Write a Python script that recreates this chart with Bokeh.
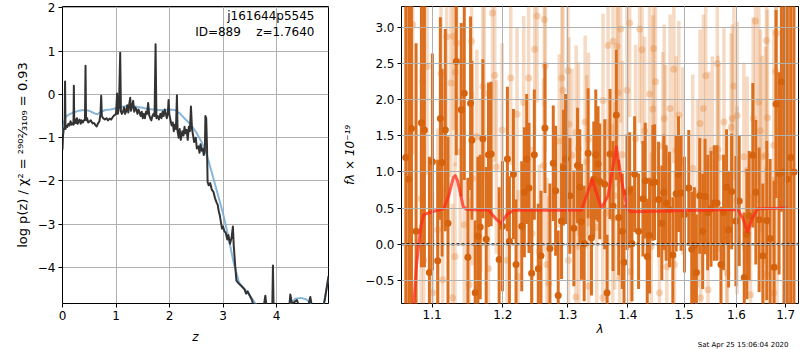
import numpy as np
from bokeh.plotting import figure
from bokeh.layouts import row
from bokeh.models import Range1d, FixedTicker, CustomJSTickFormatter, Label, Span, Title
from bokeh.embed import file_html
from bokeh.resources import INLINE

# ---------------- left panel: log p(z) ----------------
z_grid = [0.000, 0.010, 0.025, 0.040, 0.048, 0.056, 0.070, 0.090, 0.110, 0.130, 0.150, 0.170, 0.195, 0.205,
          0.212, 0.220, 0.240, 0.255, 0.270, 0.285, 0.300, 0.320, 0.340, 0.360, 0.380, 0.400, 0.420, 0.430,
          0.440, 0.460, 0.480, 0.500, 0.530, 0.560, 0.590, 0.620, 0.640, 0.660, 0.690, 0.710, 0.723, 0.735,
          0.760, 0.790, 0.820, 0.850, 0.880, 0.910, 0.940, 0.970, 1.000, 1.020, 1.035, 1.055, 1.078, 1.092,
          1.110, 1.130, 1.150, 1.170, 1.190, 1.210, 1.230, 1.250, 1.265, 1.280, 1.300, 1.320, 1.340, 1.360,
          1.380, 1.400, 1.420, 1.440, 1.460, 1.480, 1.500, 1.520, 1.540, 1.560, 1.580, 1.600, 1.620, 1.640,
          1.660, 1.680, 1.700, 1.720, 1.739, 1.755, 1.780, 1.800, 1.830, 1.850, 1.870, 1.890, 1.910, 1.930,
          1.950, 1.970, 1.982, 1.995, 2.010, 2.040, 2.060, 2.080, 2.100, 2.120, 2.138, 2.150, 2.170, 2.190,
          2.210, 2.240, 2.260, 2.280, 2.300, 2.320, 2.340, 2.360, 2.380, 2.400, 2.420, 2.440, 2.460, 2.490,
          2.510, 2.540, 2.560, 2.580, 2.600, 2.620, 2.640, 2.660, 2.670, 2.685, 2.700, 2.711, 2.730, 2.760,
          2.790, 2.820, 2.850, 2.880, 2.900, 2.920, 2.940, 2.960, 2.980, 3.000, 3.020, 3.050, 3.080, 3.100,
          3.130, 3.160, 3.184, 3.200, 3.228, 3.250, 3.280, 3.320, 3.360, 3.400, 3.430, 3.460, 3.500, 3.540,
          3.571, 3.620, 3.700, 3.760, 3.790, 3.820, 3.880, 3.920, 3.932, 3.945, 4.100, 4.230, 4.257, 4.290,
          4.330, 4.380, 4.420, 4.500, 4.580, 4.630, 4.660, 4.750, 4.850, 4.900, 4.970]
log_pz = [-1.28, -0.95, -0.78, -0.80, 0.30, -0.80, -0.72, -0.75, -0.68, -0.72, -0.62, -0.70, -0.66, -0.70,
          0.20, -0.68, -0.58, -0.66, -0.55, -0.68, -0.62, -0.58, -0.68, -0.60, -0.65, -0.60, -0.58, 0.66,
          -0.60, -0.55, -0.65, -0.63, -0.60, -0.67, -0.66, -0.72, -0.74, -0.68, -0.62, -0.45, -0.03, -0.50,
          -0.55, -0.58, -0.55, -0.60, -0.56, -0.58, -0.52, -0.48, -0.45, 0.02, -0.45, -0.30, 0.96, -0.40,
          -0.45, -0.40, -0.30, -0.45, -0.38, -0.25, -0.42, -0.20, -0.08, -0.38, -0.28, -0.15, -0.40, -0.30,
          -0.35, -0.45, -0.35, -0.42, -0.50, -0.40, -0.55, -0.45, -0.55, -0.40, -0.45, -0.20, -0.48, -0.55,
          -0.60, -0.50, -0.45, -0.50, 1.16, -0.55, -0.50, -0.58, -0.45, -0.55, -0.40, -0.50, -0.35, -0.45,
          -0.55, -0.40, -0.13, -0.45, -0.55, -0.72, -0.65, -0.85, -0.70, -0.80, -0.02, -0.85, -1.00, -0.80,
          -1.05, -0.85, -0.95, -0.75, -0.90, -0.82, -1.05, -0.75, -0.85, -0.28, -0.80, -0.95, -1.10, -1.00,
          -1.25, -1.20, -1.35, -1.15, -1.30, -1.25, -1.40, -1.30, -0.50, -0.55, -1.20, -2.02, -2.10, -2.05,
          -2.20, -2.25, -2.40, -2.50, -2.55, -2.70, -2.80, -2.95, -3.10, -3.05, -3.15, -3.20, -3.35, -3.25,
          -3.45, -3.30, -3.05, -3.50, -3.98, -4.30, -4.35, -4.40, -4.45, -4.50, -4.60, -4.55, -4.65, -4.75,
          -4.90, -5.00, -5.00, -4.90, -4.65, -5.00, -5.00, -4.90, -3.95, -5.00, -5.00, -5.00, -4.62, -4.85,
          -4.80, -4.75, -4.90, -5.00, -4.95, -4.68, -4.90, -5.00, -5.00, -4.75, -4.20]

z_smooth = [0.00, 0.03, 0.06, 0.10, 0.20, 0.30, 0.40, 0.50, 0.60, 0.65, 0.72, 0.80, 0.90, 1.00, 1.10, 1.20,
            1.30, 1.40, 1.50, 1.60, 1.70, 1.80, 1.90, 2.00, 2.10, 2.20, 2.30, 2.40, 2.50, 2.60, 2.70, 2.80,
            2.90, 3.00, 3.10, 3.20, 3.30, 3.40, 3.50, 3.60, 3.70, 3.80, 4.00, 4.15, 4.25, 4.35, 4.45, 4.55,
            4.62, 4.70, 4.80, 4.88, 4.97]
logp_smooth = [-0.92, -0.62, -0.52, -0.48, -0.42, -0.38, -0.36, -0.38, -0.44, -0.46, -0.40, -0.36, -0.35,
               -0.32, -0.29, -0.27, -0.27, -0.29, -0.31, -0.34, -0.35, -0.36, -0.36, -0.35, -0.36, -0.45,
               -0.58, -0.70, -0.88, -1.10, -1.42, -1.85, -2.30, -2.75, -3.30, -3.90, -4.35, -4.50, -4.65,
               -4.82, -4.95, -5.00, -5.00, -5.00, -4.85, -4.72, -4.70, -4.73, -4.80, -4.95, -5.00, -4.85, -4.25]

# ---------------- right panel: spectrum ----------------
lam_a = [1.0650, 1.0690, 1.0725, 1.0786, 1.0857, 1.0897, 1.0964, 1.1005, 1.1077, 1.1113, 1.1136, 1.1181,
         1.1218, 1.1333, 1.1403, 1.1445, 1.1496, 1.1534, 1.1553, 1.1600, 1.1638, 1.1672, 1.1710, 1.1758,
         1.1791, 1.1830, 1.1947, 1.1996, 1.2069, 1.2099, 1.2159, 1.2198, 1.2284, 1.2324, 1.2359, 1.2394,
         1.2435, 1.2476, 1.2537, 1.2578, 1.2640, 1.2718, 1.2770, 1.2807, 1.2848, 1.2901, 1.2933, 1.2965,
         1.3034, 1.3098, 1.3157, 1.3194, 1.3221, 1.3265, 1.3330, 1.3385, 1.3423, 1.3456, 1.3494, 1.3522,
         1.3605, 1.3644, 1.3694, 1.3745, 1.3801, 1.3841, 1.3903, 1.3932, 1.3983, 1.4029, 1.4069, 1.4115,
         1.4184, 1.4260, 1.4301, 1.4336, 1.4377, 1.4436, 1.4466, 1.4537, 1.4596, 1.4632, 1.4674, 1.4734,
         1.4795, 1.4855, 1.4898, 1.4946, 1.5008, 1.5088, 1.5143, 1.5193, 1.5230, 1.5293, 1.5349, 1.5393,
         1.5443, 1.5507, 1.5570, 1.5621, 1.5698, 1.5749, 1.5807, 1.5846, 1.5905, 1.5989, 1.6055, 1.6154,
         1.6207, 1.6253, 1.6326, 1.6386, 1.6453, 1.6528, 1.6609, 1.6677, 1.6759, 1.6800, 1.6862, 1.6910,
         1.6965, 1.7035, 1.7104, 1.7174]
flux_a = [1.20, 0.90, 1.60, 0.18, 1.68, 1.58, -0.39, 1.14, -0.23, 1.74, 1.13, 1.58,
          0.29, 2.53, 1.86, 2.09, -0.18, 1.95, 1.44, -0.67, 0.11, 0.24, 1.46, 0.07,
          1.24, 1.25, -0.21, 0.25, 1.18, 0.04, 0.97, -0.28, 0.25, 0.72, 1.18, 0.78,
          -0.40, 1.24, -0.34, -0.16, 1.61, -0.06, 1.12, 0.74, -0.71, 0.32, 1.06, 1.18,
          0.67, 0.22, 1.09, 0.79, 0.31, 0.01, 1.26, 0.09, 0.90, 1.24, 1.11, 0.87,
          0.83, -0.67, 1.25, 0.53, 1.79, 0.37, 0.18, -0.25, 0.72, 0.75, 0.01, 0.97,
          0.18, 0.63, 0.88, -0.17, 0.12, 0.85, 0.86, 0.62, 0.29, 0.72, 0.57, 0.48,
          -0.15, 0.70, 0.97, 0.71, 0.41, 0.78, -0.07, -0.01, -0.39, 0.67, 0.18, 0.66,
          0.44, 0.49, 0.57, 0.57, -0.28, 0.44, 0.79, 0.20, 0.73, 0.32, 0.60, -0.46,
          0.14, 0.39, 1.23, 0.72, 0.34, -0.16, 0.33, 0.08, -0.32, 1.94, 0.98, 2.25,
          1.00, 0.90, 1.20, 1.00]
err_a = [3.5, 3.5, 3.0, 2.6, 2.0, 1.9, 1.6, 1.5, 1.4, 1.4, 1.3, 1.4,
         1.2, 1.3, 1.2, 1.2, 1.1, 1.2, 1.1, 1.0, 1.1, 1.0, 1.1, 1.0,
         1.0, 1.0, 1.0, 0.9, 1.0, 0.9, 0.9, 0.9, 0.9, 0.9, 0.9, 0.9,
         0.9, 0.9, 0.9, 0.9, 0.9, 0.9, 0.8, 0.9, 0.9, 0.8, 0.8, 0.9,
         0.8, 0.8, 0.8, 0.8, 0.8, 0.8, 0.9, 0.8, 0.8, 0.9, 0.8, 0.8,
         0.9, 0.8, 0.9, 0.9, 0.9, 0.8, 0.8, 0.8, 0.8, 0.8, 0.8, 0.8,
         0.8, 0.8, 0.8, 0.8, 0.8, 0.8, 0.8, 0.8, 0.8, 0.8, 0.8, 0.8,
         0.8, 0.8, 0.8, 0.8, 0.8, 0.8, 0.8, 0.8, 0.8, 0.8, 0.8, 0.8,
         0.8, 0.8, 0.8, 0.8, 0.8, 0.8, 0.8, 0.8, 0.8, 0.9, 0.9, 0.9,
         0.9, 0.9, 1.0, 1.0, 1.0, 1.0, 1.1, 1.1, 1.2, 1.3, 1.4, 1.8,
         3.5, 3.5, 3.5, 3.5]

lam_b = [1.0700, 1.0742, 1.0853, 1.0875, 1.0888, 1.0933, 1.1009, 1.1077, 1.1122, 1.1145, 1.1200, 1.1259,
         1.1282, 1.1292, 1.1315, 1.1319, 1.1338, 1.1389, 1.1445, 1.1514, 1.1548, 1.1562, 1.1624, 1.1681,
         1.1710, 1.1729, 1.1791, 1.1849, 1.1883, 1.1907, 1.1991, 1.2064, 1.2119, 1.2213, 1.2228, 1.2314,
         1.2389, 1.2440, 1.2481, 1.2517, 1.2552, 1.2618, 1.2630, 1.2645, 1.2671, 1.2697, 1.2864, 1.2906,
         1.2922, 1.3002, 1.3012, 1.3018, 1.3066, 1.3130, 1.3135, 1.3173, 1.3178, 1.3281, 1.3308, 1.3335,
         1.3340, 1.3472, 1.3572, 1.3577, 1.3655, 1.3661, 1.3740, 1.3745, 1.3773, 1.3812, 1.3829, 1.3858,
         1.3875, 1.3903, 1.3983, 1.4029, 1.4040, 1.4132, 1.4202, 1.4243, 1.4289, 1.4377, 1.4407, 1.4436,
         1.4448, 1.4483, 1.4554, 1.4614, 1.4638, 1.4662, 1.4686, 1.4746, 1.4813, 1.4825, 1.4855, 1.4904,
         1.4977, 1.5162, 1.5249, 1.5299, 1.5311, 1.5362, 1.5406, 1.5450, 1.5469, 1.5532, 1.5627, 1.5640,
         1.5659, 1.5756, 1.5807, 1.5820, 1.5895, 1.5918, 1.5950, 1.6010, 1.6015, 1.6147, 1.6213, 1.6280,
         1.6333, 1.6380, 1.6447, 1.6480, 1.6514, 1.6582, 1.6587, 1.6602, 1.6623, 1.6747, 1.6752, 1.6793,
         1.6807, 1.6821, 1.7000, 1.7140]
flux_b = [1.50, 3.04, 0.63, 2.26, -0.22, 2.46, -0.67, 0.20, 2.36, -0.49, 2.87, 2.23,
          -0.74, 2.88, -0.17, 2.38, 2.79, 1.28, 0.27, -0.56, 2.81, 0.91, 1.49, 0.82,
          2.18, 2.09, -0.34, 3.20, 2.34, 1.07, 1.58, -0.22, 2.30, 1.80, -0.45, 1.96,
          2.30, 0.15, 2.70, 3.16, -0.10, 1.09, 3.11, 2.47, -0.28, -0.54, 1.43, 2.30,
          2.13, 2.40, -0.22, 1.66, 1.23, -0.73, 1.55, 1.32, -0.03, 1.69, 1.14, 1.45,
          -0.58, 0.23, -0.74, 1.99, 0.43, 2.75, 0.36, 2.81, 0.67, 2.74, 2.10, -0.47,
          2.98, 1.24, 2.13, 3.06, -0.38, 1.46, 2.98, 2.69, 1.57, 2.08, -0.03, 1.87,
          2.71, 2.25, -0.67, 1.36, 1.74, 1.18, -0.31, 1.88, 2.42, -0.28, 1.30, 1.79,
          1.15, 1.05, 0.70, 1.67, -0.74, 1.88, 2.33, -0.63, 1.09, 1.30, 2.50, 1.31,
          1.20, 1.69, 0.15, -0.40, 1.62, 1.74, 2.19, 0.61, 1.78, 1.21, 1.02, -0.70,
          1.74, 3.09, 1.97, 1.57, 1.21, 1.23, -0.42, 2.82, 1.75, -0.67, 1.37, 2.39,
          2.92, -0.31, 1.30, 1.00]
err_b = [3.0, 1.8, 1.8, 1.6, 1.6, 1.5, 1.4, 1.4, 1.4, 1.3, 1.3, 1.3,
         1.3, 1.3, 1.3, 1.3, 1.3, 1.3, 1.2, 1.2, 1.2, 1.2, 1.2, 1.2,
         1.2, 1.2, 1.2, 1.2, 1.2, 1.2, 1.2, 1.2, 1.2, 1.2, 1.2, 1.2,
         1.2, 1.2, 1.2, 1.2, 1.2, 1.2, 1.2, 1.2, 1.2, 1.2, 1.2, 1.2,
         1.2, 1.2, 1.2, 1.2, 1.2, 1.2, 1.2, 1.2, 1.2, 1.2, 1.2, 1.2,
         1.2, 1.2, 1.2, 1.2, 1.3, 1.3, 1.3, 1.3, 1.3, 1.3, 1.3, 1.3,
         1.3, 1.3, 1.3, 1.3, 1.3, 1.3, 1.3, 1.3, 1.3, 1.3, 1.3, 1.3,
         1.3, 1.3, 1.3, 1.3, 1.3, 1.3, 1.3, 1.3, 1.3, 1.3, 1.3, 1.3,
         1.3, 1.3, 1.3, 1.3, 1.3, 1.3, 1.3, 1.3, 1.3, 1.3, 1.3, 1.3,
         1.3, 1.3, 1.3, 1.3, 1.3, 1.3, 1.3, 1.3, 1.3, 1.3, 1.3, 1.4,
         1.4, 1.4, 1.4, 1.4, 1.4, 1.5, 1.5, 1.5, 1.5, 1.6, 1.6, 1.6,
         1.6, 1.6, 3.0, 3.0]

lam_model = [1.0755, 1.0790, 1.0822, 1.0850, 1.0888, 1.1000, 1.1159, 1.1227, 1.1290, 1.1319, 1.1350,
             1.1389, 1.1430, 1.1482, 1.1791, 1.1913, 1.1976, 1.2060, 1.2159, 1.3221, 1.3303, 1.3395,
             1.3483, 1.3550, 1.3661, 1.3728, 1.3801, 1.3886, 1.3988, 1.4057, 1.6022, 1.6121, 1.6220,
             1.6300, 1.6420, 1.7035]
flux_model = [-0.85, -0.30, 0.00, 0.25, 0.41, 0.45, 0.49, 0.67, 0.92, 0.95, 0.88,
              0.71, 0.52, 0.48, 0.47, 0.34, 0.29, 0.41, 0.47, 0.47, 0.67, 0.90,
              0.67, 0.50, 0.67, 0.99, 1.35, 0.90, 0.48, 0.45, 0.48, 0.37, 0.17,
              0.34, 0.49, 0.50]

z_ticks = [0, 1, 2, 3, 4]
logp_ticks = [-4, -3, -2, -1, 0, 1, 2]
lam_ticks = [1.1, 1.2, 1.3, 1.4, 1.5, 1.6, 1.7]
flux_ticks = [-0.5, 0.0, 0.5, 1.0, 1.5, 2.0, 2.5, 3.0]

FONT = "DejaVu Sans"


def style(p):
    p.outline_line_color = "black"
    p.outline_line_width = 1
    p.outline_line_alpha = 1
    p.background_fill_color = "white"
    p.border_fill_color = "white"
    for ax in (p.xaxis[0], p.yaxis[0]):
        ax.major_label_text_font = FONT
        ax.major_label_text_font_size = "12px"
        ax.major_label_text_color = "black"
        ax.axis_label_text_font = FONT
        ax.axis_label_text_font_size = "12px"
        ax.axis_label_text_color = "black"
        ax.axis_line_color = None
        ax.major_tick_line_color = "black"
        ax.major_tick_out = 4
        ax.major_tick_in = 0
        ax.minor_tick_line_color = None
        ax.major_label_standoff = 3
        ax.axis_label_standoff = 5
    p.grid.grid_line_color = "#b0b0b0"
    p.grid.grid_line_width = 1


H = 349
BB = 46
# ---- left figure ----
p1 = figure(width=340, height=H, x_range=Range1d(0, 4.97), y_range=Range1d(-4.83, 2.03),
            output_backend="svg", toolbar_location=None,
            min_border_left=62, min_border_right=12, min_border_top=6, min_border_bottom=BB)
style(p1)
p1.xaxis.ticker = FixedTicker(ticks=z_ticks)
p1.yaxis.ticker = FixedTicker(ticks=logp_ticks)
p1.xaxis.formatter = CustomJSTickFormatter(code="return tick.toFixed(0).replace('-', '\u2212');")
p1.yaxis.formatter = CustomJSTickFormatter(code="return tick.toFixed(0).replace('-', '\u2212');")
p1.xaxis.axis_label = "z"
p1.xaxis.axis_label_text_font_style = "italic"
p1.xaxis.axis_label_standoff = 7
p1.yaxis.axis_label = "log p(z) / \u03c7\u00b2 = \u00b2\u2079\u2070\u00b2\u2044\u2083\u2081\u2080\u2089 = 0.93"
p1.yaxis.axis_label_text_font_style = "normal"
p1.yaxis.axis_label_text_font_size = "13px"

p1.line(z_smooth, logp_smooth, line_color="#7aaed6", line_alpha=0.9, line_width=2)
p1.line(z_grid, log_pz, line_color="#333333", line_width=2, line_join="round")

p1.add_layout(Label(x=4.708, y=1.645, text="j161644p5545", text_align="right",
                    text_font=FONT, text_font_size="12px", text_color="black"))
p1.add_layout(Label(x=4.708, y=1.27, text="ID=889\u00a0\u00a0\u00a0\u00a0z=1.7640", text_align="right",
                    text_font=FONT, text_font_size="12px", text_color="black"))

# ---- right figure ----
p2 = figure(width=459, height=H, x_axis_type="log", x_range=Range1d(1.0594, 1.727),
            y_range=Range1d(-0.82, 3.29), output_backend="svg", toolbar_location=None,
            min_border_left=59, min_border_right=1, min_border_top=6, min_border_bottom=BB)
style(p2)
p2.xaxis.ticker = FixedTicker(ticks=lam_ticks, minor_ticks=[])
p2.yaxis.ticker = FixedTicker(ticks=flux_ticks)
p2.xaxis.formatter = CustomJSTickFormatter(code="return tick.toFixed(1);")
p2.yaxis.formatter = CustomJSTickFormatter(code="return tick.toFixed(1).replace('-', '\u2212');")
p2.xaxis.axis_label = "\u03bb"
p2.xaxis.axis_label_text_font_style = "italic"
p2.xaxis.axis_label_standoff = 0
p2.xaxis.major_label_standoff = 2
p2.yaxis.axis_label = "f\u03bb \u00d7 10\u207b\u00b9\u2079"
p2.yaxis.axis_label_text_font_style = "italic"
p2.grid.level = "overlay"

la = np.array(lam_a); fa = np.array(flux_a); ea = np.array(err_a)
lb = np.array(lam_b); fb = np.array(flux_b); eb = np.array(err_b)

ORANGE = "#e07a28"
p2.segment(x0=lb, y0=fb - eb, x1=lb, y1=fb + eb, line_color=ORANGE, line_alpha=0.28, line_width=3.5)
p2.scatter(lb, fb, size=7, fill_color=ORANGE, fill_alpha=0.3, line_color=None)
p2.segment(x0=la, y0=fa - ea, x1=la, y1=fa + ea, line_color="#dc6f1e", line_alpha=1.0, line_width=3)
p2.scatter(la, fa, size=7, fill_color="#d5620c", line_color=None)
p2.line(lam_model, flux_model, line_color="#ff2a1a", line_alpha=0.75, line_width=3, line_join="round")
p2.add_layout(Span(location=0, dimension="width", line_color="black", line_dash="3 2", line_width=2))

stamp = Title(text="Sat Apr 25 15:06:04 2020", align="right", text_font=FONT, text_font_size="7px",
              text_font_style="normal", text_color="black", standoff=0, offset=10)
p2.add_layout(stamp, "below")

layout = row(p1, p2)
open("out.html", "w").write(file_html(layout, INLINE))
